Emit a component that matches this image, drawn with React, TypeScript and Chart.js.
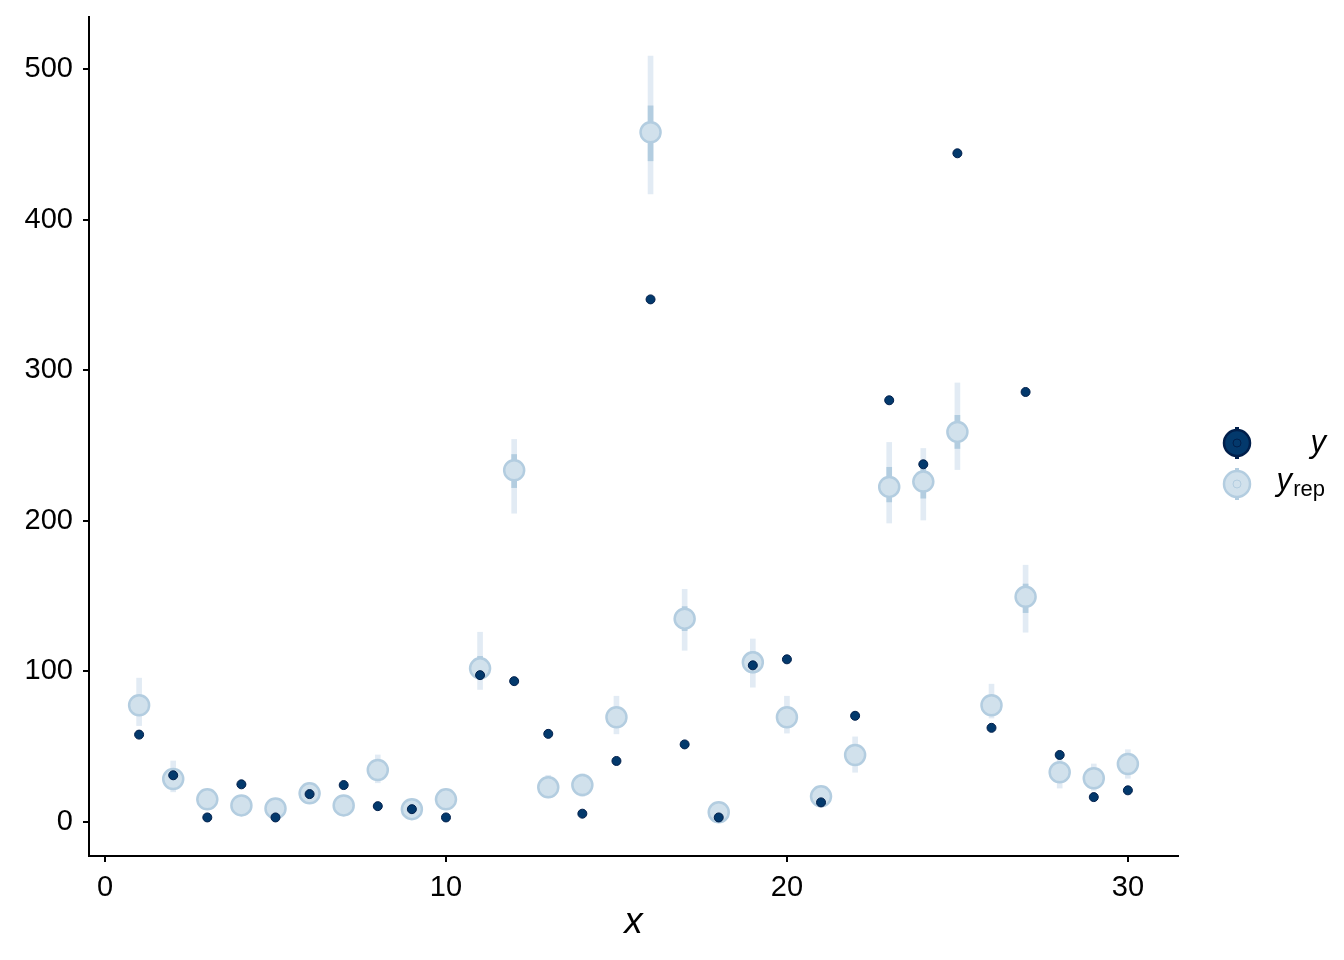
import React, { useEffect, useRef } from "react";
import { Chart, registerables } from "chart.js";

Chart.register(...registerables);

const xs = [1, 2, 3, 4, 5, 6, 7, 8, 9, 10, 11, 12, 13, 14, 15, 16, 17, 18, 19, 20, 21, 22, 23, 24, 25, 26, 27, 28, 29, 30];
const yObs = [58, 31, 3, 25, 3, 18.5, 24.5, 10.5, 8.5, 3, 97.5, 93.5, 58.5, 5.5, 40.5, 347, 51.5, 3, 104, 108, 13, 70.5, 280, 237.5, 444, 62.5, 285.5, 44.5, 16.5, 21];
const yrepMed = [77.5, 28.5, 15, 11, 9, 19, 11, 34.5, 8.5, 15, 102, 233.5, 23, 24.5, 69.5, 458, 135, 6.5, 106, 69.5, 17, 44.5, 222.5, 226, 259, 77.5, 149.5, 33, 29, 38.5];
const yrepLo90 = [64, 20, 9, 6, 4, 13, 6, 26, 4, 9, 88, 205, 16, 17, 58.5, 417, 114, 3, 89.5, 59, 11, 33, 198.5, 200.5, 234, 69, 126, 22.5, 21, 29];
const yrepHi90 = [95.5, 40.5, 21, 17, 14, 26, 17, 44.5, 13, 21, 126, 254, 31, 32, 83.5, 508.5, 154.5, 11, 121.5, 83.5, 23, 56.5, 252, 248, 291.5, 91.5, 170.5, 43, 38.5, 48];
const yrepLo50 = [71, 25, 12, 8, 6, 16, 8, 30, 6, 12, 95, 222, 19, 21, 64, 439, 127, 5, 99, 64, 14, 39, 212.5, 215, 248, 73, 139, 28, 25, 34];
const yrepHi50 = [84, 33, 18, 14, 11, 22, 14, 39, 11, 18, 110, 244, 27, 28, 75, 475.5, 143, 9, 113, 76, 20, 50, 235.5, 235, 270, 83, 158, 38, 33, 43];
const xTickVals = [0, 10, 20, 30];
const yTickVals = [0, 100, 200, 300, 400, 500];

const FONT = "'Liberation Sans', Arial, sans-serif";

const legendPlugin = {
  id: "customLegend",
  afterDraw(chart: any) {
    const ctx = chart.ctx;
    ctx.save();
    const kx = 1237;
    const y1 = 443;
    const y2 = 484;
    // dark key
    ctx.fillStyle = "#011f4b";
    ctx.fillRect(kx - 2, y1 - 16, 4, 32);
    ctx.beginPath();
    ctx.arc(kx, y1, 13, 0, Math.PI * 2);
    ctx.fillStyle = "#03396c";
    ctx.fill();
    ctx.lineWidth = 2.5;
    ctx.strokeStyle = "#011f4b";
    ctx.stroke();
    ctx.beginPath();
    ctx.arc(kx, y1, 4, 0, Math.PI * 2);
    ctx.lineWidth = 1;
    ctx.stroke();
    // light key
    ctx.fillStyle = "#b3cde0";
    ctx.fillRect(kx - 2, y2 - 16, 4, 32);
    ctx.beginPath();
    ctx.arc(kx, y2, 13, 0, Math.PI * 2);
    ctx.fillStyle = "#d1e1ec";
    ctx.fill();
    ctx.lineWidth = 2.5;
    ctx.strokeStyle = "#b3cde0";
    ctx.stroke();
    ctx.beginPath();
    ctx.arc(kx, y2, 4, 0, Math.PI * 2);
    ctx.lineWidth = 1;
    ctx.stroke();
    // labels
    ctx.fillStyle = "#000";
    ctx.textBaseline = "alphabetic";
    ctx.textAlign = "right";
    ctx.font = `italic 31px ${FONT}`;
    ctx.fillText("y", 1326, 452);
    ctx.font = `22px ${FONT}`;
    ctx.fillText("rep", 1325, 496);
    ctx.font = `italic 31px ${FONT}`;
    ctx.fillText("y", 1292, 490);
    ctx.restore();
  },
};

export default function App() {
  const ref = useRef<HTMLCanvasElement>(null);
  useEffect(() => {
    const pts = (arr: number[]) => xs.map((x, i) => ({ x, y: arr[i] }));
    const rng = (lo: number[], hi: number[]) => xs.map((x, i) => ({ x, y: [lo[i], hi[i]] }));
    const chart = new Chart(ref.current as HTMLCanvasElement, {
      type: "scatter",
      data: {
        datasets: [
          {
            type: "bar",
            label: "outer",
            data: rng(yrepLo90, yrepHi90) as any,
            backgroundColor: "#e2ebf4",
            barThickness: 5,
            grouped: false,
            order: 4,
          } as any,
          {
            type: "bar",
            label: "inner",
            data: rng(yrepLo50, yrepHi50) as any,
            backgroundColor: "#b3cde0",
            barThickness: 5,
            grouped: false,
            order: 3,
          } as any,
          {
            label: "y_rep",
            data: pts(yrepMed),
            pointRadius: 10,
            pointBackgroundColor: "#d1e1ec",
            pointBorderColor: "#b3cde0",
            pointBorderWidth: 2.5,
            order: 2,
          },
          {
            label: "y",
            data: pts(yObs),
            pointRadius: 4.5,
            pointBackgroundColor: "#03396c",
            pointBorderColor: "#011f4b",
            pointBorderWidth: 1,
            order: 1,
          },
        ],
      },
      options: {
        animation: false,
        responsive: true,
        maintainAspectRatio: false,
        events: [],
        layout: { padding: { left: 0, top: 17, right: 166, bottom: 0 } },
        plugins: { legend: { display: false }, tooltip: { enabled: false } },
        scales: {
          x: {
            type: "linear",
            min: -0.47,
            max: 31.47,
            offset: false,
            afterBuildTicks: (s: any) => {
              s.ticks = xTickVals.map((v) => ({ value: v }));
            },
            afterFit: (s: any) => {
              s.height = 104;
              s.paddingLeft = 0;
              s.paddingRight = 0;
            },
            grid: { display: true, offset: false, drawOnChartArea: false, drawTicks: true, tickLength: 6, color: "#000", lineWidth: 2 },
            border: { display: true, color: "#000", width: 2 },
            ticks: { color: "#000", font: { family: FONT, size: 29 }, padding: 9, maxRotation: 0 },
            title: { display: true, text: "x", color: "#000", font: { family: FONT, size: 37, style: "italic" }, padding: { top: 0, bottom: 15 } },
          },
          y: {
            type: "linear",
            min: -22.6,
            max: 534.5,
            afterBuildTicks: (s: any) => {
              s.ticks = yTickVals.map((v) => ({ value: v }));
            },
            afterFit: (s: any) => {
              s.width = 89;
              s.paddingTop = 0;
              s.paddingBottom = 0;
            },
            grid: { display: true, offset: false, drawOnChartArea: false, drawTicks: true, tickLength: 6, color: "#000", lineWidth: 2 },
            border: { display: true, color: "#000", width: 2 },
            ticks: { color: "#000", font: { family: FONT, size: 29 }, padding: 10 },
          },
        },
      } as any,
      plugins: [legendPlugin],
    });
    return () => chart.destroy();
  }, []);
  return (
    <div style={{ position: "fixed", left: 0, top: 0, width: 1344, height: 960, background: "#fff" }}>
      <canvas ref={ref} />
    </div>
  );
}
